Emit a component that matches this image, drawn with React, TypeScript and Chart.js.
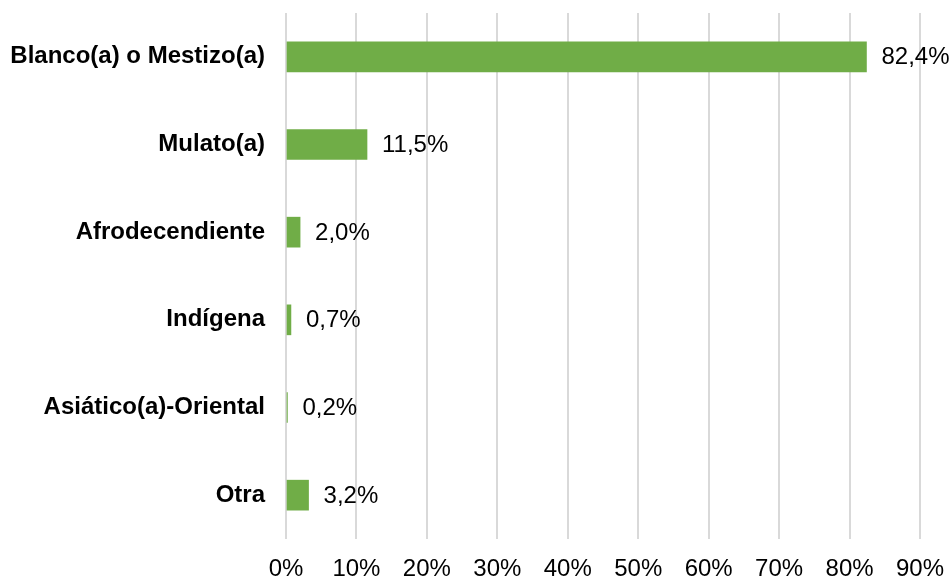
import React, { useEffect, useRef } from "react";
import { Chart, registerables } from "chart.js";

Chart.register(...registerables);

const categories = [
  "Blanco(a) o Mestizo(a)",
  "Mulato(a)",
  "Afrodecendiente",
  "Indígena",
  "Asiático(a)-Oriental",
  "Otra",
];
const values = [82.4, 11.5, 2.0, 0.7, 0.2, 3.2];
const valueLabels = ["82,4%", "11,5%", "2,0%", "0,7%", "0,2%", "3,2%"];
const xMax = 90;
const xStep = 10;

const FONT = "'Liberation Sans', Arial, sans-serif";

const labelPlugin = {
  id: "valueLabels",
  afterDatasetsDraw(chart: any) {
    const ctx = chart.ctx;
    const meta = chart.getDatasetMeta(0);
    ctx.save();
    ctx.font = `24px ${FONT}`;
    ctx.fillStyle = "#000000";
    ctx.textAlign = "left";
    ctx.textBaseline = "middle";
    meta.data.forEach((bar: any, i: number) => {
      ctx.fillText(valueLabels[i], bar.x + 15, bar.y + 1);
    });
    ctx.restore();
  },
};

export default function App() {
  const ref = useRef<HTMLCanvasElement | null>(null);
  useEffect(() => {
    if (!ref.current) return;
    const chart = new Chart(ref.current, {
      type: "bar",
      data: {
        labels: categories,
        datasets: [
          {
            data: values,
            backgroundColor: "#70AD47",
            borderWidth: 0,
            barThickness: 30,
          },
        ],
      },
      plugins: [labelPlugin],
      options: {
        indexAxis: "y",
        animation: false,
        responsive: false,
        maintainAspectRatio: false,
        layout: { padding: { left: 0, right: 31, top: 13, bottom: 0 } },
        plugins: {
          legend: { display: false },
          tooltip: { enabled: false },
        },
        scales: {
          x: {
            min: 0,
            max: xMax,
            grid: { color: "#d9d9d9", lineWidth: 2, drawTicks: false },
            border: { display: false },
            ticks: {
              stepSize: xStep,
              padding: 16,
              color: "#000000",
              font: { family: FONT, size: 24 },
              callback: (v: any) => `${v}%`,
            },
            afterFit: (s: any) => {
              s.height = 39;
              s.paddingLeft = 0;
              s.paddingRight = 0;
            },
          },
          y: {
            grid: { display: false, drawTicks: false },
            border: { display: false },
            ticks: {
              padding: 21,
              color: "#000000",
              font: { family: FONT, size: 24, weight: "bold" },
            },
            afterFit: (s: any) => {
              s.width = 286;
              s.paddingTop = 0;
              s.paddingBottom = 0;
            },
          },
        },
      },
    });
    return () => chart.destroy();
  }, []);
  return (
    <div style={{ position: "fixed", left: 0, top: 0, width: 951, height: 578, background: "#fff" }}>
      <canvas ref={ref} width={951} height={578} />
    </div>
  );
}
